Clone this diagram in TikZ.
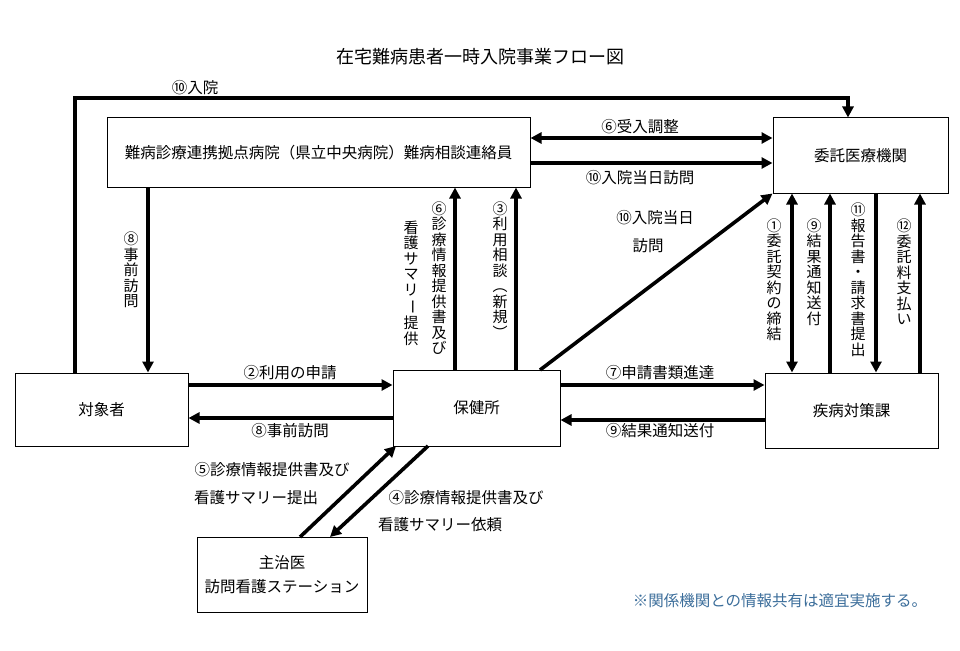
\documentclass[tikz,border=0pt]{standalone}
\usepackage{fontspec}
\setmainfont{Noto Sans CJK JP}
\usetikzlibrary{arrows.meta}
\newcommand\vbar{\rotatebox[origin=c]{-90}{ー}}
\begin{document}
\begin{tikzpicture}[x=1pt,y=-1pt,
  every node/.style={font=\fontsize{15.5}{18}\selectfont},
  box/.style={draw,line width=1pt,inner sep=0pt},
  arr/.style={line width=3.6pt,-{Triangle[length=11pt,width=11pt]}},
  darr/.style={line width=3.6pt,{Triangle[length=11pt,width=11pt]}-{Triangle[length=11pt,width=11pt]}},
  vt/.style={align=center,inner sep=0pt,font=\fontsize{15}{15.5}\selectfont}]
\fill[white] (0,0) rectangle (960,650);
\node (title) at (480,57) {\fontsize{18}{20}\selectfont 在宅難病患者一時入院事業フロー図};
\node[box,minimum width=423pt,minimum height=69pt] (hosp) at (318.5,152.5) {難病診療連携拠点病院（県立中央病院）難病相談連絡員};
\node[box,minimum width=175pt,minimum height=75pt] (itaku) at (860.5,155.5) {委託医療機関};
\node[box,minimum width=173pt,minimum height=73pt] (sub) at (101.5,409.5) {対象者};
\node[box,minimum width=167pt,minimum height=76pt] (hoken) at (476.5,408) {保健所};
\node[box,minimum width=173pt,minimum height=75pt] (shi) at (851.5,410.5) {疾病対策課};
\node[box,minimum width=170pt,minimum height=75pt,align=center] (doc) at (282,574.5) {主治医\\[6pt]訪問看護ステーション};
% 10 nyuin
\coordinate (a1) at (75,98); \coordinate (a2) at (848,98);
\draw[arr] (sub.north -| a1) -- (a1) -- (a2) -- (itaku.north -| a2);
\node at (195,88) {⑩入院};
% top horizontal
\draw[darr] (hosp.east |- 0,138) -- (itaku.west |- 0,138);
\node at (640,127) {⑥受入調整};
\draw[arr] (hosp.east |- 0,163) -- (itaku.west |- 0,163);
\node at (640,178) {⑩入院当日訪問};
% 8 down
\draw[arr] (hosp.south -| 148,0) -- (sub.north -| 148,0);
\node[vt] at (131,270) {⑧\\事\\前\\訪\\問};
% 6 and 3 up
\draw[arr] (hoken.north -| 455,0) -- (hosp.south -| 455,0);
\node[vt] at (439,278) {⑥\\診\\療\\情\\報\\提\\供\\書\\及\\び};
\node[vt] at (411,283) {看\\護\\サ\\マ\\リ\\\vbar\\提\\供};
\draw[arr] (hoken.north -| 516,0) -- (hosp.south -| 516,0);
\node[vt] at (500,270) {③\\利\\用\\相\\談\\︵\\新\\規\\︶};
% diagonal
\coordinate (d1) at (540,370);
\draw[arr] (d1) -- (itaku.south west);
\node at (655,218) {⑩入院当日};
\node at (648,246) {訪問};
% right verticals
\draw[darr] (itaku.south -| 792,0) -- (shi.north -| 792,0);
\node[vt] at (774,280) {①\\委\\託\\契\\約\\の\\締\\結};
\draw[arr] (shi.north -| 830,0) -- (itaku.south -| 830,0);
\node[vt] at (814,272) {⑨\\結\\果\\通\\知\\送\\付};
\draw[arr] (itaku.south -| 876,0) -- (shi.north -| 876,0);
\node[vt] at (858,280) {⑪\\報\\告\\書\\・\\請\\求\\書\\提\\出};
\draw[arr] (shi.north -| 920,0) -- (itaku.south -| 920,0);
\node[vt] at (904,272) {⑫\\委\\託\\料\\支\\払\\い};
% middle horizontals
\draw[arr] (sub.east |- 0,385) -- (hoken.west |- 0,385);
\node at (290,373) {②利用の申請};
\draw[arr] (hoken.west |- 0,418) -- (sub.east |- 0,418);
\node at (290,431) {⑧事前訪問};
\draw[arr] (hoken.east |- 0,385) -- (shi.west |- 0,385);
\node at (660,373) {⑦申請書類進達};
\draw[arr] (shi.west |- 0,420) -- (hoken.east |- 0,420);
\node at (660,431) {⑨結果通知送付};
% diagonal 4,5
\coordinate (e1) at (300,537); \coordinate (e2) at (396,446);
\draw[arr] (e1) -- (e2);
\coordinate (f1) at (428,446); \coordinate (f2) at (330,537);
\draw[arr] (f1) -- (f2);
\node at (272,470) {⑤診療情報提供書及び};
\node at (256,498) {看護サマリー提出};
\node at (466,498) {④診療情報提供書及び};
\node at (440,525) {看護サマリー依頼};
\node[text={rgb,255:red,60;green,110;blue,155}] (note) at (780,601) {※関係機関との情報共有は適宜実施する。};
\end{tikzpicture}
\end{document}
